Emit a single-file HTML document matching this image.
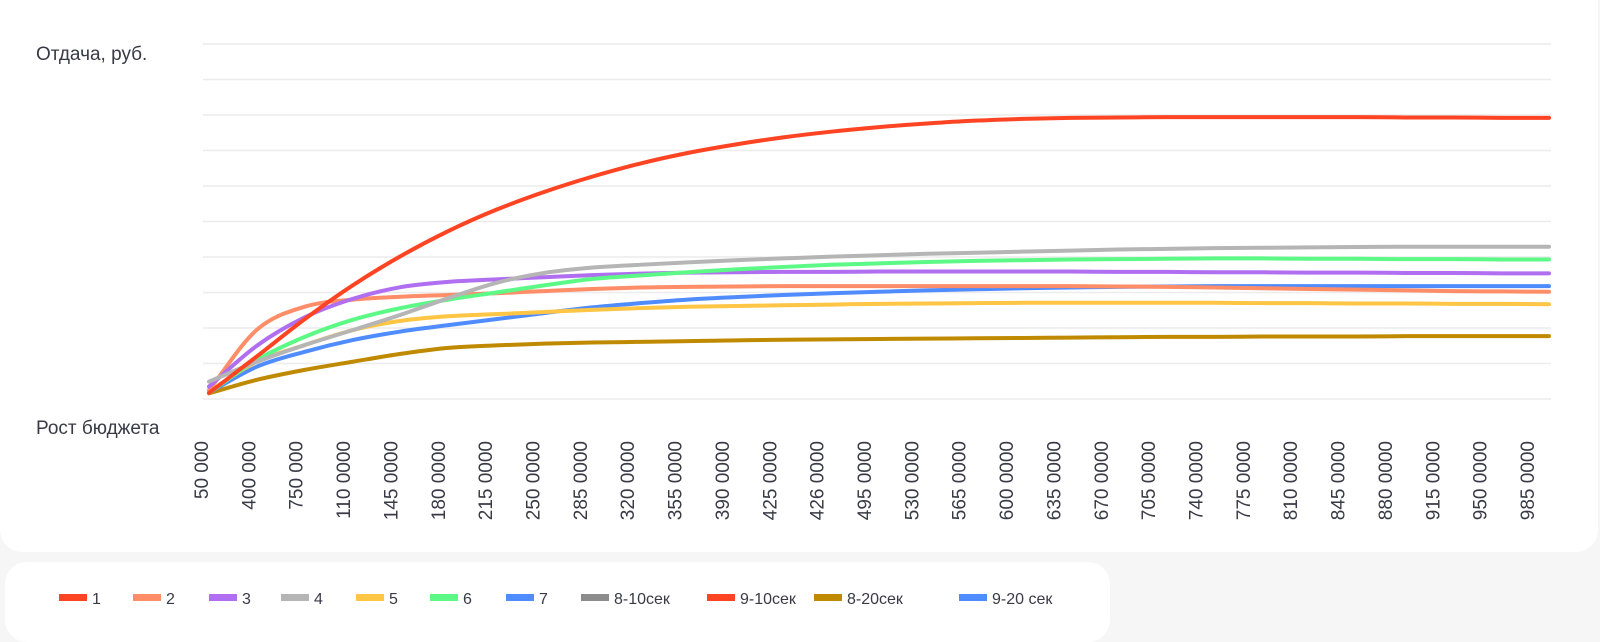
<!DOCTYPE html>
<html><head><meta charset="utf-8">
<style>
html,body{margin:0;padding:0;width:1600px;height:638px;overflow:hidden;background:#f6f6f7;font-family:"Liberation Sans","Noto Sans CJK SC",sans-serif;}
#card{position:absolute;left:0;top:0;width:1598px;height:552px;background:#fff;border-radius:0 0 22px 22px;}
#legend{position:absolute;left:5px;top:562px;width:1105px;height:80px;background:#fff;border-radius:22px;}
.li{position:absolute;top:30px;height:16px;font-size:16px;color:#3a3a46;line-height:16px;white-space:nowrap;}
.sw{display:inline-block;width:28px;height:7px;vertical-align:middle;margin-right:5px;position:relative;top:-2px;}
svg{position:absolute;left:0;top:0;}
</style></head><body>
<div id="card">
<svg id="chart" width="1600" height="552">
<text x="36" y="60" font-size="19" fill="#3a3a46">Отдача, руб.</text>
<text x="36" y="434" font-size="19" fill="#3a3a46">Рост бюджета</text>
<g id="grid"></g><g id="xlabels"></g><g id="lines"></g>
</svg>
</div>
<div id="legend"></div>
<script>
const categories=["50 000","400 000","750 000","110 0000","145 0000","180 0000","215 0000","250 0000","285 0000","320 0000","355 0000","390 0000","425 0000","426 0000","495 0000","530 0000","565 0000","600 0000","635 0000","670 0000","705 0000","740 0000","775 0000","810 0000","845 0000","880 0000","915 0000","950 0000","985 0000"];
const yTicks=[0,1,2,3,4,5,6,7,8,9,10];
const s1=[0.17,1.2,2.25,3.2,4.02,4.73,5.33,5.83,6.26,6.63,6.93,7.17,7.37,7.53,7.66,7.76,7.84,7.89,7.92,7.93,7.94,7.94,7.94,7.94,7.94,7.93,7.93,7.92,7.92];
const s2=[0.25,1.95,2.6,2.8,2.88,2.93,2.98,3.04,3.1,3.14,3.16,3.17,3.18,3.18,3.18,3.18,3.18,3.18,3.18,3.17,3.16,3.14,3.12,3.10,3.08,3.06,3.04,3.03,3.02];
const s3=[0.35,1.5,2.3,2.82,3.15,3.3,3.37,3.43,3.49,3.53,3.56,3.57,3.58,3.58,3.59,3.59,3.59,3.59,3.59,3.58,3.58,3.57,3.57,3.56,3.56,3.55,3.55,3.54,3.54];
const s4=[0.49,1.05,1.52,1.94,2.37,2.84,3.27,3.55,3.7,3.78,3.85,3.91,3.96,4.01,4.05,4.09,4.12,4.15,4.18,4.21,4.23,4.25,4.26,4.27,4.28,4.29,4.29,4.29,4.29];
const s5=[0.21,1.05,1.52,1.94,2.2,2.33,2.39,2.45,2.51,2.56,2.6,2.62,2.64,2.66,2.68,2.69,2.7,2.71,2.71,2.71,2.71,2.71,2.7,2.7,2.69,2.69,2.68,2.68,2.67];
const s6=[0.17,1.1,1.75,2.23,2.56,2.8,3.0,3.2,3.38,3.48,3.57,3.65,3.72,3.78,3.82,3.86,3.89,3.91,3.93,3.94,3.95,3.96,3.96,3.95,3.95,3.94,3.94,3.93,3.93];
const s7=[0.18,0.91,1.33,1.66,1.9,2.08,2.25,2.42,2.58,2.7,2.8,2.87,2.93,2.98,3.02,3.06,3.09,3.12,3.14,3.16,3.17,3.18,3.18,3.18,3.18,3.18,3.18,3.18,3.18];
const s820=[0.16,0.54,0.82,1.05,1.27,1.44,1.51,1.56,1.59,1.61,1.63,1.65,1.67,1.68,1.69,1.7,1.71,1.72,1.73,1.74,1.75,1.75,1.76,1.76,1.76,1.77,1.77,1.77,1.77];
const legendNames=["1","2","3","4","5","6","7","8-10сек","9-10сек","8-20сек","9-20 сек"];
const legendColors=["#ff4424","#ff8d68","#b06ef0","#b5b5b5","#ffc544","#5cf987","#4f8cff","#8c8c8c","#ff4424","#c08a00","#4f8cff"];
const legendX=[54,128,204,276,351,425,501,576,702,809,954];

const NS="http://www.w3.org/2000/svg";
const X0=209,X1=1549,Y0=399,Y1=44,GX0=203,GX1=1551;
function xs(i){return X0+(X1-X0)*i/(categories.length-1);}
function ys(v){return Y0-(Y0-Y1)*v/10;}
const grid=document.getElementById('grid');
yTicks.forEach(t=>{const l=document.createElementNS(NS,'line');
l.setAttribute('x1',GX0);l.setAttribute('x2',GX1);l.setAttribute('y1',ys(t));l.setAttribute('y2',ys(t));
l.setAttribute('stroke','#ececec');l.setAttribute('stroke-width','1.5');


grid.appendChild(l);});
const xl=document.getElementById('xlabels');
const labStep=(1528-202)/(categories.length-1);
categories.forEach((c,i)=>{const t=document.createElementNS(NS,'text');
const x=202+labStep*i+6;
t.setAttribute('transform','translate('+x+',441) rotate(-90)');
t.setAttribute('text-anchor','end');t.setAttribute('font-size','19');t.setAttribute('fill','#3a3a46');
t.textContent=c;


xl.appendChild(t);});
function mono(pts){const n=pts.length,d=[],m=[];
for(let i=0;i<n-1;i++)d.push((pts[i+1][1]-pts[i][1])/(pts[i+1][0]-pts[i][0]));
m[0]=d[0];m[n-1]=d[n-2];
for(let i=1;i<n-1;i++){m[i]=(d[i-1]*d[i]<=0)?0:(d[i-1]+d[i])/2;}
for(let i=0;i<n-1;i++){if(d[i]===0){m[i]=0;m[i+1]=0;continue;}const a=m[i]/d[i],b=m[i+1]/d[i],s=a*a+b*b;if(s>9){const t=3/Math.sqrt(s);m[i]=t*a*d[i];m[i+1]=t*b*d[i];}}
let p='M'+pts[0][0]+','+pts[0][1];
for(let i=0;i<n-1;i++){const h=(pts[i+1][0]-pts[i][0])/3;
p+=' C'+(pts[i][0]+h)+','+(pts[i][1]+m[i]*h)+' '+(pts[i+1][0]-h)+','+(pts[i+1][1]-m[i+1]*h)+' '+pts[i+1][0]+','+pts[i+1][1];}
return p;}
const series=[[s820,"#c08a00","line-8-20sec"],[s7,"#4f8cff","line-7"],[s5,"#ffc544","line-5"],[s2,"#ff8d68","line-2"],[s3,"#b06ef0","line-3"],[s6,"#5cf987","line-6"],[s4,"#b5b5b5","line-4"],[s1,"#ff4424","line-1"]];
const lg=document.getElementById('lines');
series.forEach(s=>{const p=document.createElementNS(NS,'path');
p.setAttribute('d',mono(s[0].map((v,i)=>[xs(i),ys(v)])));
p.setAttribute('fill','none');p.setAttribute('stroke',s[1]);p.setAttribute('stroke-width','4');p.setAttribute('stroke-linecap','round');


lg.appendChild(p);});
const leg=document.getElementById('legend');
legendNames.forEach((n,i)=>{const d=document.createElement('div');d.className='li';d.style.left=legendX[i]+'px';
d.innerHTML='<span class="sw" style="background:'+legendColors[i]+'"></span>'+n;


leg.appendChild(d);});
</script>
</body></html>
